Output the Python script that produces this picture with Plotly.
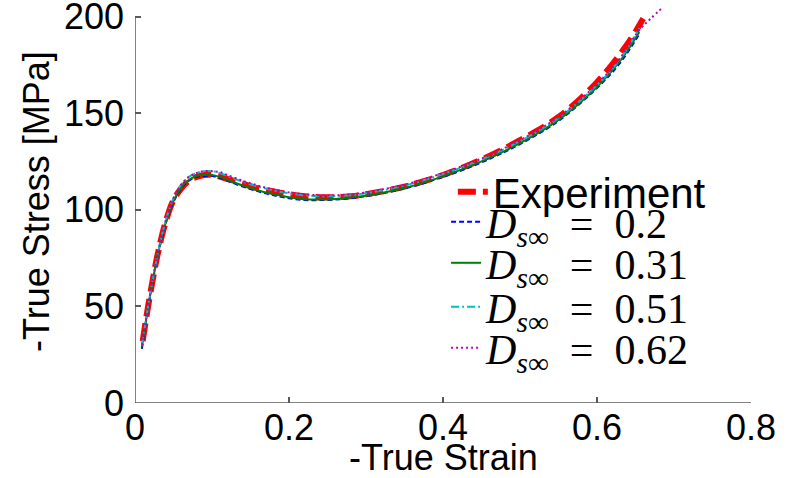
import plotly.graph_objects as go

# ---- data ----
exp_x = [0.010, 0.015, 0.020, 0.030, 0.040, 0.050, 0.060, 0.070, 0.080, 0.090, 0.100,
         0.120, 0.140, 0.160, 0.180, 0.200, 0.220, 0.240, 0.260, 0.280, 0.300,
         0.350, 0.400, 0.450, 0.500, 0.550, 0.600, 0.640, 0.660]
exp_y = [32, 45, 57, 78, 94, 105, 111, 115, 117, 118, 118,
         116, 113.5, 111, 109.5, 108, 107, 106.5, 106.5, 107, 108,
         112, 118, 126, 136, 148, 166, 186, 199]

sim_x = [0.009, 0.015, 0.020, 0.030, 0.040, 0.050, 0.060, 0.070, 0.080, 0.090, 0.100,
         0.110, 0.120, 0.140, 0.160, 0.180, 0.200, 0.220, 0.240, 0.260, 0.280, 0.300,
         0.350, 0.400, 0.450, 0.500, 0.550, 0.600, 0.630, 0.655]
sim_02 = [28, 44, 56, 77, 93, 104, 111, 115, 117, 117.5, 117.5,
          116.5, 115, 112, 109.5, 107.5, 106, 105, 105, 105.3, 106, 107,
          111, 117, 124.5, 134, 146, 163, 176, 191]
sim_031 = [29, 44.5, 56.5, 77.5, 93.5, 104.5, 111.5, 115.5, 117.5, 118, 118,
           117, 115.5, 112.5, 110, 108, 106.5, 105.5, 105.3, 105.6, 106.3, 107.3,
           111.3, 117.3, 125, 134.5, 146.5, 163.5, 177, 192]
sim_051 = [30, 45, 57, 78, 94.5, 106, 113, 117, 119, 120, 120,
           119, 117.5, 114.5, 112, 110, 108.5, 107.5, 107, 107, 107.5, 108.5,
           112.5, 118.5, 126, 135.5, 147.5, 164.5, 178, 194]
sim_062_x = sim_x + [0.670, 0.686]
sim_062 = [30, 45, 57, 78, 94.5, 106, 113, 117, 119, 120, 120,
           119.5, 118, 115, 112.5, 110.5, 109, 108, 107.5, 107.5, 108, 109,
           113, 119, 126.5, 136, 148, 165, 178.5, 193, 199, 205]

x_ticks = [0, 0.2, 0.4, 0.6, 0.8]
y_ticks = [0, 50, 100, 150, 200]
x_title = "-True Strain"
y_title = "-True Stress [MPa]"

SP = "\u2002"
def dlabel(v):
    return "<i>D</i><sub><i>s</i>∞</sub>" + SP + "=" + SP + v

fig = go.Figure()
fig.add_trace(go.Scatter(x=exp_x, y=exp_y, mode="lines", name="Experiment", legend="legend",
                         line=dict(color="#ff0000", width=6, dash="18px,7px", shape="spline")))
fig.add_trace(go.Scatter(x=sim_x, y=sim_02, mode="lines", name=dlabel("0.2"), legend="legend2",
                         line=dict(color="#0000ff", width=2, dash="5px,3px", shape="spline")))
fig.add_trace(go.Scatter(x=sim_x, y=sim_031, mode="lines", name=dlabel("0.31"), legend="legend3",
                         line=dict(color="#008000", width=2, shape="spline")))
fig.add_trace(go.Scatter(x=sim_x, y=sim_051, mode="lines", name=dlabel("0.51"), legend="legend4",
                         line=dict(color="#00bfbf", width=2, dash="8px,3px,2px,3px", shape="spline")))
fig.add_trace(go.Scatter(x=sim_062_x, y=sim_062, mode="lines", name=dlabel("0.62"), legend="legend5",
                         line=dict(color="#bf00bf", width=2, dash="2px,3px", shape="spline")))

axis_col = "#5a5a5a"
fig.add_shape(type="line", xref="x", yref="y", x0=0, x1=0, y0=0, y1=200,
              line=dict(color=axis_col, width=1.5))
fig.add_shape(type="line", xref="x", yref="y", x0=0, x1=0.8, y0=0, y1=0,
              line=dict(color=axis_col, width=1.5))

def leg(x, y, family):
    return dict(x=x, y=y, xanchor="left", yanchor="middle",
                bgcolor="rgba(0,0,0,0)", font=dict(size=42, family=family, color="black"),
                tracegroupgap=0, borderwidth=0)

fig.update_layout(
    width=790, height=478,
    margin=dict(l=135, r=39, t=3, b=75),
    paper_bgcolor="white", plot_bgcolor="white",
    font=dict(family="Liberation Sans", size=36, color="black"),
    showlegend=True,
    legend=leg(0.516, 0.5275, "Liberation Sans"),
    legend2=leg(0.505, 0.4525, "Liberation Serif"),
    legend3=leg(0.505, 0.35, "Liberation Serif"),
    legend4=leg(0.505, 0.24, "Liberation Serif"),
    legend5=leg(0.505, 0.1375, "Liberation Serif"),
    xaxis=dict(range=[0, 0.8], tickvals=x_ticks, ticktext=[f"{v:g}" for v in x_ticks],
               ticks="inside", ticklen=6, tickwidth=1.5, tickcolor=axis_col,
               showgrid=False, zeroline=False, showline=False,
               ticklabeloverflow="allow", automargin=False),
    yaxis=dict(range=[0, 207], tickvals=y_ticks, ticktext=[str(v) for v in y_ticks],
               ticks="inside", ticklen=6, tickwidth=1.5, tickcolor=axis_col,
               showgrid=False, zeroline=False, showline=False,
               ticklabelstandoff=10, ticklabeloverflow="allow", automargin=False),
    annotations=[
        dict(text=x_title, xref="paper", yref="paper", x=0.5, y=(403 - 457) / 400,
             xanchor="center", yanchor="middle", showarrow=False, font=dict(size=36)),
        dict(text=y_title, xref="paper", yref="paper", x=(36 - 135) / 616, y=(403 - 201) / 400,
             xanchor="center", yanchor="middle", textangle=-90, showarrow=False,
             font=dict(size=36)),
    ],
)

fig.write_html("out.html")
